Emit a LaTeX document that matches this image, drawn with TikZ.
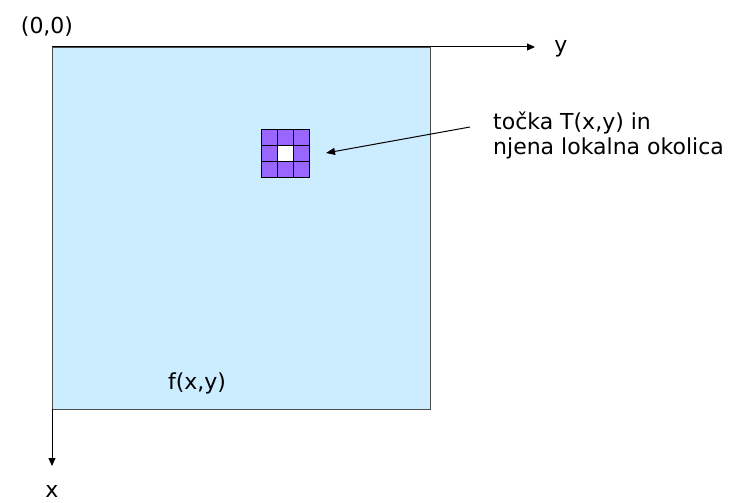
\documentclass[tikz,border=0pt]{standalone}
\usepackage{fontspec}
\setmainfont{DejaVu Sans}
\usetikzlibrary{arrows.meta}
\definecolor{imgblue}{RGB}{204,236,255}
\definecolor{cellpurple}{RGB}{153,102,255}
\tikzset{
  lbl/.style={inner sep=0pt, font=\fontsize{22}{25}\selectfont},
  axis/.style={line width=1pt, -{Triangle[length=8pt,width=7pt]}},
  cell/.style={draw=black, line width=1pt, fill=cellpurple},
}
\begin{document}
\begin{tikzpicture}[x=1pt,y=-1pt]
\useasboundingbox (0,0) rectangle (731,503);
\node[draw=black!70, line width=1pt, fill=imgblue, minimum width=378pt, minimum height=362pt, inner sep=0pt, anchor=north west] (img) at (52,47) {};
\coordinate (o) at (52,47);
\coordinate (yend) at (535,47);
\coordinate (xstart) at (52,409);
\coordinate (xend) at (52,466);
\draw[axis] (o) -- (yend);
\draw[axis] (xstart) -- (xend);
\node[lbl] (orig) at (47,27) {(0,0)};
\node[lbl] (ylbl) at (561,49) {y};
\node[lbl] (xlbl) at (52,491) {x};
\node[lbl] (f) at (197,383) {f(x,y)};
% grid
\foreach \i in {0,1,2}{
  \foreach \j in {0,1,2}{
    \node[cell, minimum size=16pt, inner sep=0pt, anchor=north west] (c\i\j) at (261+16*\i,129+16*\j) {};
  }
}
\node[draw=black, line width=1pt, fill=white, minimum size=16pt, inner sep=0pt, anchor=north west] (center) at (277,145) {};
\node[lbl, align=left, anchor=west] (txt) at (493,135) {točka T(x,y) in\\njena lokalna okolica};
\coordinate (astart) at (470,127);
\coordinate (aend) at (326,153);
\draw[line width=1pt, -{Triangle[length=9pt,width=7pt]}] (astart) -- (aend);
\end{tikzpicture}
\end{document}
